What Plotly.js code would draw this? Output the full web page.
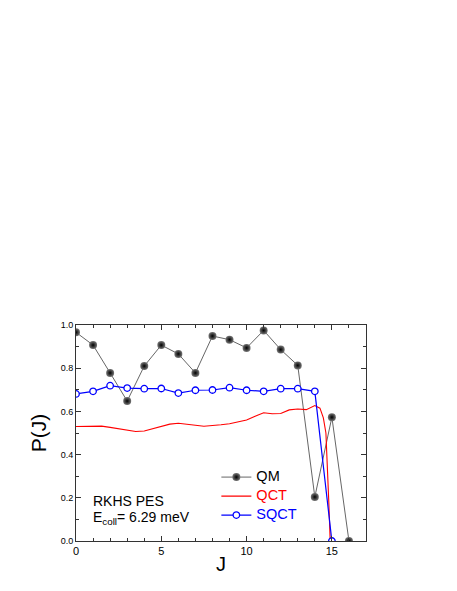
<!DOCTYPE html>
<html>
<head>
<meta charset="utf-8">
<script src="https://cdn.plot.ly/plotly-3.0.1.min.js"></script>
<style>html,body{margin:0;padding:0;background:#fff;}#chart{width:457px;height:591px;}</style>
</head>
<body>
<div id="chart"></div>
<script>
// Data
const qmJ = [0,1,2,3,4,5,6,7,8,9,10,11,12,13,14,15,16];
const qmP = [0.966,0.907,0.778,0.648,0.810,0.907,0.866,0.778,0.949,0.932,0.894,0.975,0.886,0.813,0.204,0.573,0.0];

const sqctJ = [0,1,2,3,4,5,6,7,8,9,10,11,12,13,14,15];
const sqctP = [0.681,0.693,0.719,0.708,0.705,0.706,0.685,0.698,0.699,0.710,0.698,0.693,0.705,0.705,0.693,0.0];

const qctJ = [0,0.5,1,1.5,2,2.5,3,3.5,4,4.5,5,5.5,6,6.5,7,7.5,8,8.5,9,9.5,10,10.5,11,11.5,12,12.5,13,13.5,14,14.3,14.5,14.65,14.75,14.82,14.9];
const qctP = [0.530,0.531,0.532,0.532,0.526,0.520,0.512,0.507,0.509,0.520,0.532,0.541,0.545,0.542,0.536,0.531,0.533,0.538,0.543,0.551,0.560,0.578,0.594,0.589,0.590,0.607,0.611,0.608,0.627,0.615,0.570,0.500,0.340,0.180,0.0];

const names = ['QM','QCT','SQCT'];
const colors = ['#000000','#ff0000','#0000ff'];
const xTicks = [0,5,10,15];
const yTicks = [0,0.2,0.4,0.6,0.8,1.0];
const label1 = 'RKHS PES';
const label2 = 'E<sub>coll</sub>= 6.29 meV';

const font = 'Arial, "Liberation Sans", sans-serif';
const legName = (n, c) => '<span style="color:' + c + ';font-size:14.5px">' + n + '</span>';

const traces = [
  {x: qmJ, y: qmP, type:'scatter', mode:'lines+markers',
   name: legName(names[0], colors[0]),
   line:{color:'#666666', width:1},
   marker:{symbol:'circle', size:8, color:'#767676', gradient:{type:'radial', color:'#000000'}, line:{width:0}}},
  {x: qctJ, y: qctP, type:'scatter', mode:'lines',
   name: legName(names[1], colors[1]),
   line:{color:colors[1], width:1.1}},
  {x: sqctJ, y: sqctP, type:'scatter', mode:'lines+markers',
   name: legName(names[2], colors[2]),
   line:{color:colors[2], width:1.2},
   marker:{symbol:'circle', size:6.5, color:'#ffffff', line:{color:colors[2], width:1.3}}}
];

const layout = {
  width:457, height:591,
  margin:{l:76, r:91, t:325, b:50, pad:0},
  paper_bgcolor:'#fff', plot_bgcolor:'#fff',
  font:{family:font, color:'#000'},
  showlegend:true,
  legend:{x:0.484, y:0.363, xanchor:'left', yanchor:'top', bgcolor:'rgba(0,0,0,0)',
          font:{family:font, size:10}, tracegroupgap:0, itemwidth:30},
  xaxis:{range:[0,17], tickvals:xTicks, ticktext:xTicks.map(String), ticks:'inside', ticklen:5,
         tickcolor:'#333', showline:true, linecolor:'#333', linewidth:1, mirror:'ticks',
         showgrid:false, zeroline:false, tickfont:{size:11, family:font},
         minor:{dtick:1, ticks:'inside', ticklen:3, tickcolor:'#333', showgrid:false},
         title:{text:'J', font:{size:20, family:font}, standoff:0}},
  yaxis:{range:[0,1], tickvals:yTicks, ticktext:yTicks.map(v=>v.toFixed(1)), ticks:'inside', ticklen:5,
         tickcolor:'#333', showline:true, linecolor:'#333', linewidth:1, mirror:'ticks',
         showgrid:false, zeroline:false, tickfont:{size:9, family:font},
         minor:{dtick:0.1, ticks:'inside', ticklen:3, tickcolor:'#333', showgrid:false},
         title:{text:'P(J)', font:{size:21, family:font}, standoff:8}},
  annotations:[
    {xref:'paper', yref:'paper', x:0.05, y:0.184, xanchor:'left', yanchor:'middle', showarrow:false,
     text:label1, font:{size:14, family:font}},
    {xref:'paper', yref:'paper', x:0.05, y:0.108, xanchor:'left', yanchor:'middle', showarrow:false,
     text:label2, font:{size:14, family:font}}
  ]
};

Plotly.newPlot('chart', traces, layout, {displayModeBar:false, staticPlot:true});
</script>
</body>
</html>
